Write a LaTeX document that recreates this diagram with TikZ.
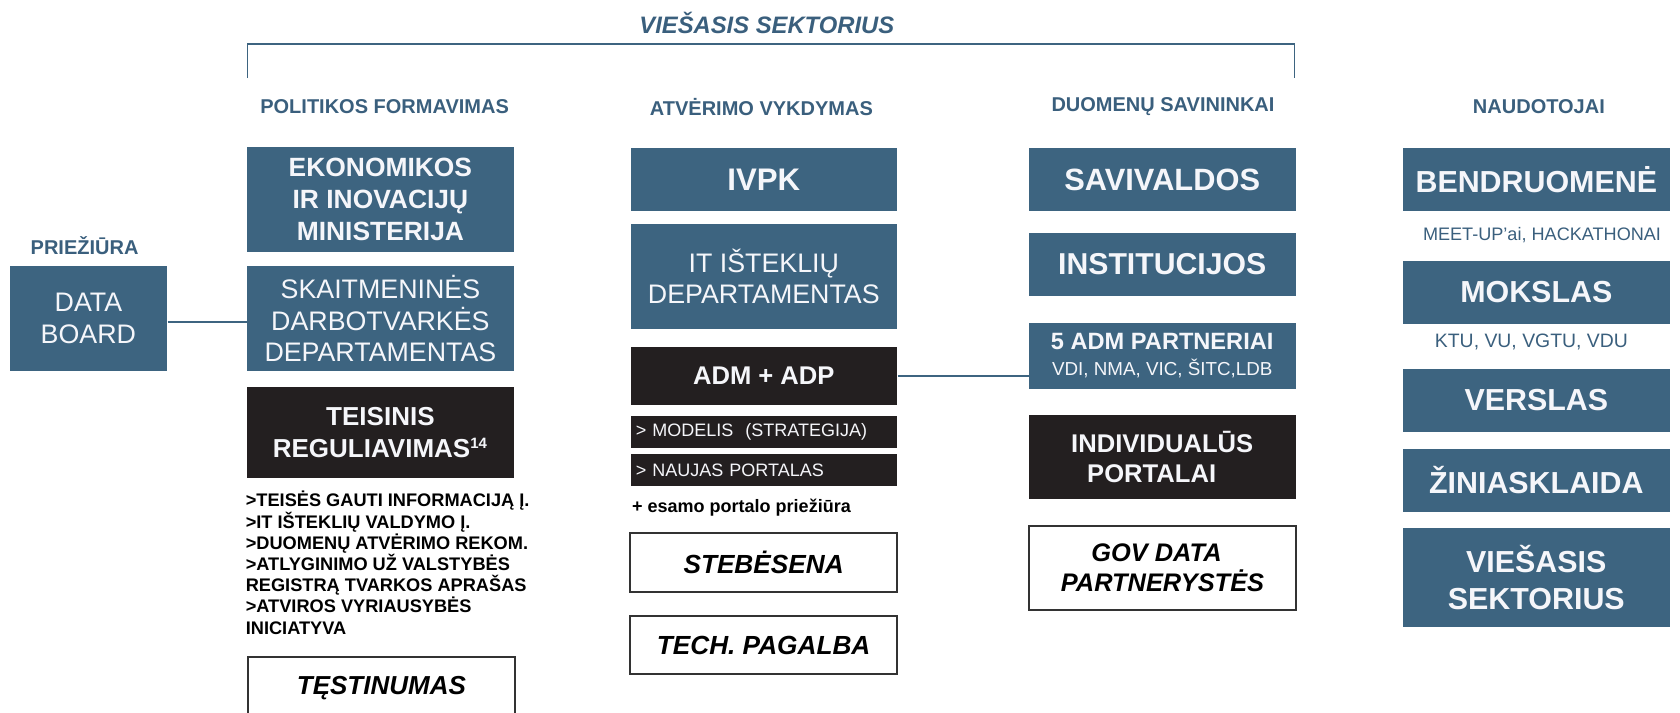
\documentclass[tikz,border=0pt]{standalone}
\usepackage{fontspec}
\setmainfont{Liberation Sans}
\usetikzlibrary{positioning}
\definecolor{boxblue}{RGB}{61,100,128}
\definecolor{headblue}{RGB}{58,95,125}
\definecolor{boxdark}{RGB}{35,31,32}
\definecolor{boxtext}{RGB}{245,246,250}
\begin{document}
\begin{tikzpicture}
		[x=0.5pt, y=-0.5pt,
		bluebox/.style={fill=boxblue, text=boxtext, inner sep=0pt, align=center},
		darkbox/.style={fill=boxdark, text=boxtext, inner sep=0pt, align=center},
		framebox/.style={draw=black!80, line width=1pt, inner sep=0pt, align=center,
			minimum width=133.3pt, font=\fontsize{13.1}{15.5}\selectfont\bfseries\itshape},
		colhead/.style={text=headblue, font=\fontsize{10}{12}\selectfont\bfseries},
		note/.style={text=headblue, inner sep=0pt},
		link/.style={draw=boxblue, line width=0.7pt},
		boldbig/.style={font=\fontsize{13.2}{15.8}\selectfont\bfseries},
		plainbig/.style={font=\fontsize{13.4}{15.8}\selectfont},
		boldhuge/.style={font=\fontsize{15.2}{18.3}\selectfont\bfseries},
		col/.style={minimum width=133.3pt},
		subline/.style={darkbox, align=left, text width=127.9pt, inner xsep=2.7pt,
			minimum height=16pt, font=\fontsize{9}{11}\selectfont}]
	\useasboundingbox (0,0) rectangle (1680,712);
	\clip (0,0) rectangle (1680,712);
	% headers
	\node[text=headblue, font=\fontsize{11.9}{14}\selectfont\bfseries\itshape] (title) at (766.8,23) {VIEŠASIS SEKTORIUS};
	\coordinate (brA) at (247.5,78);
	\coordinate (brB) at (247.5,44);
	\coordinate (brC) at (1294.6,44);
	\coordinate (brD) at (1294.6,78);
	\draw[link] (brA) -- (brB) -- (brC) -- (brD);
	\node[colhead] (prieziura) at (84.6,246) {PRIEŽIŪRA};
	\node[colhead] (politika) at (384.6,107) {POLITIKOS FORMAVIMAS};
	\node[colhead] (atverimas) at (761.4,107) {ATVĖRIMO VYKDYMAS};
	\node[colhead] (savininkai) at (1163,107) {DUOMENŲ SAVININKAI};
	\node[colhead] (naudotojai) at (1538.9,107) {NAUDOTOJAI};
	% politikos formavimas
	\node[bluebox, plainbig, minimum width=78.75pt, minimum height=52.5pt] (databoard) at (88.4,318.5) {DATA\\BOARD};
	\node[bluebox, boldbig, col, minimum height=52.5pt] (eim) at (380.4,199.5) {EKONOMIKOS\\IR INOVACIJŲ\\MINISTERIJA};
	\node[bluebox, plainbig, col, minimum height=52.5pt] (sdd) at (380.4,318.5) {SKAITMENINĖS\\DARBOTVARKĖS\\DEPARTAMENTAS};
	\node[darkbox, col, minimum height=45.5pt, font=\fontsize{13}{15.8}\selectfont\bfseries] (teisinis) at (380.4,432.5)
		{TEISINIS\\REGULIAVIMAS\textsuperscript{\fontsize{7.5}{8}\selectfont 14}};
	\node[anchor=north west, align=left, inner sep=0pt, font=\fontsize{9.1}{10.6}\selectfont\bfseries] (teislist) at (245.4,491)
		{>TEISĖS GAUTI INFORMACIJĄ Į.\\>IT IŠTEKLIŲ VALDYMO Į.\\>DUOMENŲ ATVĖRIMO REKOM.\\>ATLYGINIMO UŽ VALSTYBĖS\\REGISTRĄ TVARKOS APRAŠAS\\>ATVIROS VYRIAUSYBĖS\\INICIATYVA};
	\node[framebox, font=\fontsize{13}{15.5}\selectfont\bfseries\itshape, minimum height=31pt] (testinumas) at (381.4,688) {TĘSTINUMAS};
	\draw[link] ([yshift=-1.75pt]databoard.east) -- ([yshift=-1.75pt]sdd.west);
	% atverimo vykdymas
	\node[bluebox, font=\fontsize{15.6}{18}\selectfont\bfseries, col, minimum height=31.5pt] (ivpk) at (763.8,179.5) {IVPK};
	\node[bluebox, plainbig, col, minimum height=52.5pt] (itdep) at (763.8,276.5) {IT IŠTEKLIŲ\\DEPARTAMENTAS};
	\node[darkbox, font=\fontsize{12.8}{15}\selectfont\bfseries, col, minimum height=29pt] (admadp) at (763.8,376) {ADM + ADP};
	\node[subline] (modelis) at (763.8,432) {> MODELIS~~(STRATEGIJA)};
	\node[subline] (naujas) at (763.8,470) {> NAUJAS PORTALAS};
	\node[anchor=base west, inner sep=0pt, font=\fontsize{9}{11}\selectfont\bfseries] (esamas) at (631.8,512) {+ esamo portalo priežiūra};
	\node[framebox, minimum height=29.5pt] (stebesena) at (763.6,562.5) {STEBĖSENA};
	\node[framebox, minimum height=29pt] (pagalba) at (763.6,645) {TECH. PAGALBA};
	% duomenu savininkai
	\node[bluebox, font=\fontsize{15.4}{18}\selectfont\bfseries, col, minimum height=31.5pt] (savivaldos) at (1162.2,179.5) {SAVIVALDOS};
	\node[bluebox, font=\fontsize{15.1}{18}\selectfont\bfseries, col, minimum height=31.5pt] (institucijos) at (1162.2,264.5) {INSTITUCIJOS};
	\node[bluebox, col, minimum height=33pt, font=\fontsize{9.4}{13}\selectfont] (adm5) at (1162.2,356)
		{{\fontsize{11.8}{13}\selectfont\bfseries 5 ADM PARTNERIAI}\\VDI, NMA, VIC, ŠITC,LDB};
	\node[darkbox, col, minimum height=42pt, font=\fontsize{12.8}{15}\selectfont\bfseries] (individualus) at (1162.2,457) {INDIVIDUALŪS\\PORTALAI\hspace*{10.5pt}};
	\node[framebox, minimum height=42pt, font=\fontsize{12.7}{15}\selectfont\bfseries\itshape] (govdata) at (1162.5,568) {GOV DATA\hspace*{6pt}\\PARTNERYSTĖS};
	\draw[link] (admadp.east) -- (admadp.east -| adm5.west);
	% naudotojai
	\node[bluebox, boldhuge, col, minimum height=31.5pt] (bendruomene) at (1536.3,179.5) {BENDRUOMENĖ};
	\node[note, font=\fontsize{9.05}{11}\selectfont] (meetup) at (1542,235) {MEET-UP’ai, HACKATHONAI};
	\node[bluebox, boldhuge, col, minimum height=31.5pt] (mokslas) at (1536.3,292.5) {MOKSLAS};
	\node[note, font=\fontsize{9.7}{11}\selectfont] (ktu) at (1531.4,342) {KTU, VU, VGTU, VDU};
	\node[bluebox, boldhuge, col, minimum height=31.5pt] (verslas) at (1536.3,400.5) {VERSLAS};
	\node[bluebox, boldhuge, col, minimum height=31.5pt] (ziniasklaida) at (1536.3,480.5) {ŽINIASKLAIDA};
	\node[bluebox, boldhuge, col, minimum height=49.5pt] (viesasis) at (1536.3,577.5) {VIEŠASIS\\SEKTORIUS};
\end{tikzpicture}
\end{document}
